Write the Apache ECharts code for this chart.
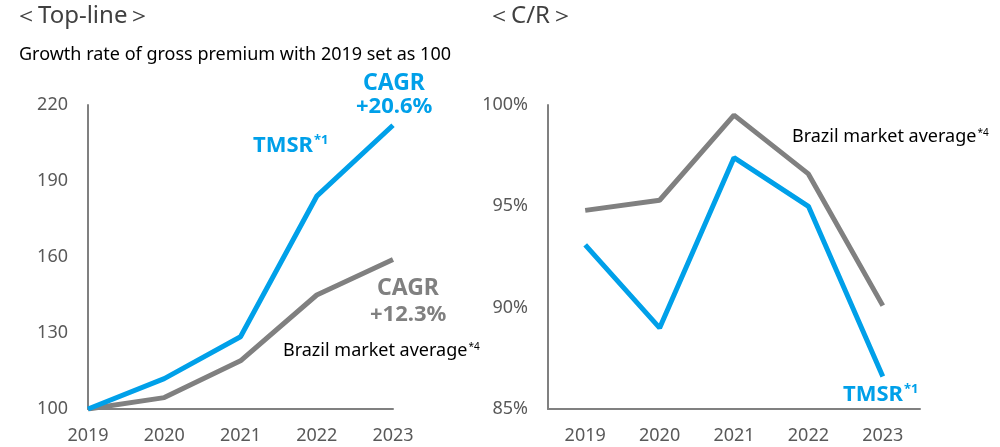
<!DOCTYPE html>
<html>
<head>
<meta charset="utf-8">
<script src="https://cdn.jsdelivr.net/npm/echarts@6/dist/echarts.min.js"></script>
<style>
  html, body { margin: 0; padding: 0; background: #fff; }
  #chart { width: 1000px; height: 447px; }
</style>
</head>
<body>
<div id="chart"></div>
<script>
// categories shared by both panels
const years = ['2019', '2020', '2021', '2022', '2023']

// top-line, 2019 = 100
const topTmsr = [100, 112, 128.5, 184, 212]
const topBrazil = [100, 104.5, 119, 145, 159]
const topTicks = { min: 100, max: 220, interval: 30 }

// combined ratio, %
const crTmsr = [93.1, 89.0, 97.4, 95.0, 86.6]
const crBrazil = [94.8, 95.3, 99.5, 96.6, 90.1]
const crTicks = { min: 85, max: 100, interval: 5 }

const BLUE = '#00a0e9'
const GREY = '#808080'
const FONT = '"Noto Sans", "Open Sans", sans-serif'

const chart = echarts.init(document.getElementById('chart'))

const axisLine = { show: true, lineStyle: { color: GREY, width: 2 } }
const tickLabel = { color: '#595959', fontSize: 18, fontFamily: FONT }

const txt = (x, y, text, opts) => ({
  type: 'text',
  left: x,
  top: y,
  style: Object.assign({ text: text, fontFamily: FONT, fill: '#000', fontSize: 16 }, opts)
})

// bold blue/grey label with a superscript note mark
const noted = (text, note, color, size, bold) => ({
  text: '{a|' + text + '}{sup|' + note + '}',
  rich: {
    a: { fontSize: size, fontWeight: bold ? 'bold' : 'normal', fill: color, fontFamily: FONT },
    sup: { fontSize: Math.round(size * 0.58), fontWeight: bold ? 'bold' : 'normal', fill: color, fontFamily: FONT,
      verticalAlign: 'top', padding: [0, 0, Math.round(size * 0.45), 1] }
  }
})

const option = {
  animation: false,
  grid: [
    { left: 88, top: 105, width: 305, height: 304 },
    { left: 548, top: 105, width: 372, height: 304 }
  ],
  xAxis: [
    {
      gridIndex: 0, type: 'category', data: years, boundaryGap: false,
      axisLine: axisLine, axisTick: { show: false },
      axisLabel: Object.assign({ margin: 18 }, tickLabel)
    },
    {
      gridIndex: 1, type: 'category', data: years, boundaryGap: true,
      axisLine: axisLine, axisTick: { show: false },
      axisLabel: Object.assign({ margin: 18 }, tickLabel)
    }
  ],
  yAxis: [
    {
      gridIndex: 0, type: 'value', min: topTicks.min, max: topTicks.max, interval: topTicks.interval,
      axisLine: axisLine, axisTick: { show: false }, splitLine: { show: false },
      axisLabel: Object.assign({ margin: 20 }, tickLabel)
    },
    {
      gridIndex: 1, type: 'value', min: crTicks.min, max: crTicks.max, interval: crTicks.interval,
      axisLine: axisLine, axisTick: { show: false }, splitLine: { show: false },
      axisLabel: Object.assign({ margin: 20, formatter: '{value}%' }, tickLabel)
    }
  ],
  series: [
    { type: 'line', name: 'Brazil', xAxisIndex: 0, yAxisIndex: 0, data: topBrazil,
      symbol: 'none', lineStyle: { color: GREY, width: 5 } },
    { type: 'line', name: 'TMSR', xAxisIndex: 0, yAxisIndex: 0, data: topTmsr,
      symbol: 'none', lineStyle: { color: BLUE, width: 5 } },
    { type: 'line', name: 'Brazil', xAxisIndex: 1, yAxisIndex: 1, data: crBrazil,
      symbol: 'none', lineStyle: { color: GREY, width: 5 } },
    { type: 'line', name: 'TMSR', xAxisIndex: 1, yAxisIndex: 1, data: crTmsr,
      symbol: 'none', lineStyle: { color: BLUE, width: 5 } }
  ],
  graphic: [
    txt(14, 4, '＜Top-line＞', { fontSize: 24, fill: '#404040' }),
    txt(19, 46, 'Growth rate of gross premium with 2019 set as 100', { fontSize: 18 }),
    txt(363, 72, 'CAGR', { fontSize: 23, fontWeight: 'bold', fill: BLUE }),
    txt(356, 96, '+20.6%', { fontSize: 22, fontWeight: 'bold', fill: BLUE }),
    txt(253, 134, '', noted('TMSR', '*1', BLUE, 22, true)),
    txt(377, 277, 'CAGR', { fontSize: 23, fontWeight: 'bold', fill: GREY }),
    txt(370, 304, '+12.3%', { fontSize: 22, fontWeight: 'bold', fill: GREY }),
    txt(283, 342, '', noted('Brazil market average', '*4', '#000', 18, false)),
    txt(487, 4, '＜C/R＞', { fontSize: 24, fill: '#404040' }),
    txt(792, 128, '', noted('Brazil market average', '*4', '#000', 18, false)),
    txt(843, 383, '', noted('TMSR', '*1', BLUE, 22, true))
  ]
}

chart.setOption(option)
</script>
</body>
</html>
